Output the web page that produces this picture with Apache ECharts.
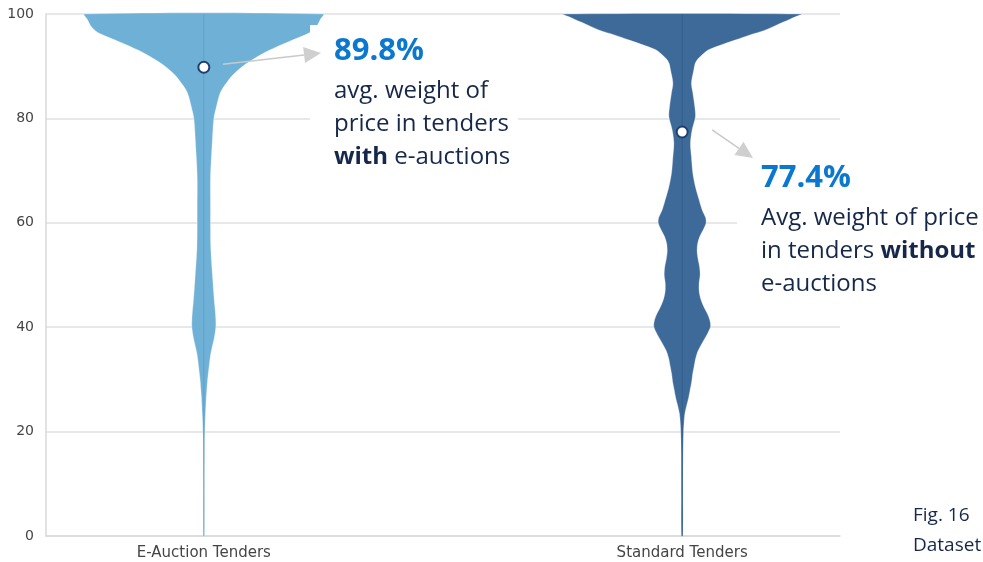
<!DOCTYPE html>
<html>
<head>
<meta charset="utf-8">
<style>
  html, body { margin: 0; padding: 0; background: #ffffff; }
  #chart { width: 983px; height: 562px; }
</style>
<script src="https://cdn.jsdelivr.net/npm/echarts@6/dist/echarts.min.js"></script>
</head>
<body>
<div id="chart"></div>
<script>
// Groups on the x axis
const categories = ['E-Auction Tenders', 'Standard Tenders'];

// Average weight of price (%) per group
const meanValues = [89.8, 77.4];

// Kernel density profile: E-auction tenders (price weight %, relative density)
const eAuctionLevels  = [0, 10, 18, 20, 22, 24, 26, 28, 30, 32, 35, 38, 40, 41.5, 43, 45, 49, 55, 59, 63, 69, 75, 80, 82, 85, 87.4, 88.5, 90, 91.5, 93, 94.7, 96.4, 97.6, 99, 100];
const eAuctionDensity = [0.4, 0.6, 0.8, 1.0, 1.3, 1.8, 2.3, 3.0, 3.8, 5.0, 7.0, 10.5, 12, 12, 11.5, 10.5, 9, 7, 6.7, 6.7, 6.7, 8.3, 10, 12.3, 16.7, 25, 30, 39, 51, 65, 85, 106, 113, 117, 120];

// Kernel density profile: standard tenders
const standardLevels  = [0, 8, 16, 20, 22, 23.5, 25, 26.5, 28, 29.5, 31, 32.5, 34, 35.5, 37.5, 39, 40.2, 41.5, 42.7, 44, 45.5, 47, 48.5, 50, 51.5, 53, 54.5, 56, 57.5, 59, 60, 61, 62.5, 64.4, 66.9, 69.5, 72.6, 75.3, 77.8, 80.3, 82.2, 84.9, 86.8, 89.3, 90.5, 91.2, 92, 93.1, 94, 95, 96, 96.9, 98, 98.9, 99.5, 100];
const standardDensity = [0.7, 0.9, 1.0, 1.4, 2.0, 2.8, 4.5, 6.5, 8, 9.5, 10.5, 12, 13.5, 16, 21.7, 26, 28.5, 27.5, 25, 21.5, 18.5, 17, 17, 18, 17.5, 16, 15, 15.5, 18, 22, 24, 23.5, 20, 17, 13.3, 10.7, 9.3, 8.3, 10, 13.3, 12.7, 10.7, 9.3, 11.7, 13, 15, 19, 26, 38, 53, 68, 83, 96, 107, 114, 119.5];

// Y axis ticks
const yMin = 0, yMax = 100, yStep = 20;

const profiles = [
  { levels: eAuctionLevels, density: eAuctionDensity },
  { levels: standardLevels, density: standardDensity }
];

// Styling
const violinFill = ['#6fb0d7', '#3e6a99'];
const violinCore = ['#5b9ac4', '#2f5a88'];
const widthScale = 0.25 / 120;   // density unit -> x-axis units
const navy = '#16284a';
const accent = '#0b78d0';
const annFont = '"Open Sans", "Noto Sans", sans-serif';

const chart = echarts.init(document.getElementById('chart'), null, { renderer: 'canvas' });

function renderViolin(params, api) {
  const idx = api.value(0);
  const p = profiles[idx];
  const right = [], left = [];
  for (let i = 0; i < p.levels.length; i++) {
    const hw = p.density[i] * widthScale;
    right.push(api.coord([idx + hw, p.levels[i]]));
    left.push(api.coord([idx - hw, p.levels[i]]));
  }
  const pts = right.concat(left.reverse());
  const bottom = api.coord([idx, p.levels[0]]);
  const top = api.coord([idx, p.levels[p.levels.length - 1]]);
  return {
    type: 'group',
    children: [
      {
        type: 'polygon',
        shape: { points: pts, smooth: 0.3 },
        style: { fill: violinFill[idx], stroke: 'rgba(255,255,255,0.5)', lineWidth: 0.6 }
      },
      {
        type: 'line',
        shape: { x1: bottom[0], y1: bottom[1], x2: top[0], y2: top[1] },
        style: { stroke: violinCore[idx], lineWidth: 1, opacity: 0.7 }
      }
    ]
  };
}

const option = {
  animation: false,
  backgroundColor: '#ffffff',
  grid: { left: 46, right: 143, top: 14, bottom: 26 },
  xAxis: {
    type: 'value',
    min: -0.33,
    max: 1.33,
    axisLine: { show: true, onZero: false, lineStyle: { color: '#d9d9d9', width: 1.5 } },
    axisTick: { show: false },
    splitLine: { show: false },
    axisLabel: {
      customValues: [0, 1],
      formatter: function (v) { return categories[Math.round(v)]; },
      color: '#454545',
      fontFamily: '"DejaVu Sans", sans-serif',
      fontSize: 15,
      margin: 10
    }
  },
  yAxis: {
    type: 'value',
    min: yMin,
    max: yMax,
    interval: yStep,
    axisLine: { show: true, onZero: false, lineStyle: { color: '#d9d9d9', width: 1.5 } },
    axisTick: { show: false },
    splitLine: { show: true, lineStyle: { color: '#e1e1e1', width: 1.5 } },
    axisLabel: {
      color: '#454545',
      fontFamily: '"DejaVu Sans", sans-serif',
      fontSize: 14,
      margin: 12
    }
  },
  series: [
    {
      type: 'custom',
      renderItem: renderViolin,
      data: categories.map(function (c, i) { return [i]; }),
      encode: { x: 0 },
      z: 2
    },
    {
      type: 'scatter',
      data: meanValues.map(function (m, i) { return [i, m]; }),
      symbol: 'circle',
      symbolSize: 11,
      itemStyle: { color: '#ffffff', borderColor: '#1f3f73', borderWidth: 2, opacity: 1 },
      z: 5
    }
  ]
};

chart.setOption(option);

// Annotation arrows start next to the mean markers
function arrow(from, tip, z) {
  const dx = tip[0] - from[0], dy = tip[1] - from[1];
  const len = Math.sqrt(dx * dx + dy * dy);
  const ux = dx / len, uy = dy / len;
  const head = 17, half = 8;
  const bx = tip[0] - ux * head, by = tip[1] - uy * head;
  return [
    { type: 'line', z: z, shape: { x1: from[0], y1: from[1], x2: bx, y2: by },
      style: { stroke: '#c9c9c9', lineWidth: 1.5 } },
    { type: 'polygon', z: z,
      shape: { points: [tip, [bx - uy * half, by + ux * half], [bx + uy * half, by - ux * half]] },
      style: { fill: '#cfcfcf' } }
  ];
}

const m0 = chart.convertToPixel({ gridIndex: 0 }, [0, meanValues[0]]);
const m1 = chart.convertToPixel({ gridIndex: 0 }, [1, meanValues[1]]);

function txt(x, y, text, size, weight, color, rich) {
  return {
    type: 'text', z: 20, x: x, y: y,
    style: {
      text: text, fill: color, font: weight + ' ' + size + 'px ' + annFont,
      verticalAlign: 'middle', align: 'left', rich: rich
    }
  };
}
const boldRich = { b: { fontWeight: 'bold', fontSize: 24, fontFamily: annFont, fill: navy } };

const graphics = [
  { type: 'rect', z: 10, shape: { x: 310, y: 25, width: 208, height: 150 }, style: { fill: '#ffffff' } },
  { type: 'rect', z: 10, shape: { x: 737, y: 160, width: 246, height: 140 }, style: { fill: '#ffffff' } }
]
  .concat(arrow([m0[0] + 19, m0[1] - 3], [321, 53], 15))
  .concat(arrow([m1[0] + 30, m1[1] - 2], [753, 158], 15))
  .concat([
    txt(334, 51, meanValues[0].toFixed(1) + '%', 31, 'bold', accent),
    txt(334, 91, 'avg. weight of', 24, 'normal', navy),
    txt(334, 124, 'price in tenders', 24, 'normal', navy),
    txt(334, 157, '{b|with} e-auctions', 24, 'normal', navy, boldRich),
    txt(761, 178, meanValues[1].toFixed(1) + '%', 31, 'bold', accent),
    txt(761, 218, 'Avg. weight of price', 24, 'normal', navy),
    txt(761, 251, 'in tenders {b|without}', 24, 'normal', navy, boldRich),
    txt(761, 284, 'e-auctions', 24, 'normal', navy),
    txt(913, 516, 'Fig. 16', 19, 'normal', navy),
    txt(913, 546, 'Dataset', 19, 'normal', navy)
  ]);

chart.setOption({ graphic: { elements: graphics } });
</script>
</body>
</html>
